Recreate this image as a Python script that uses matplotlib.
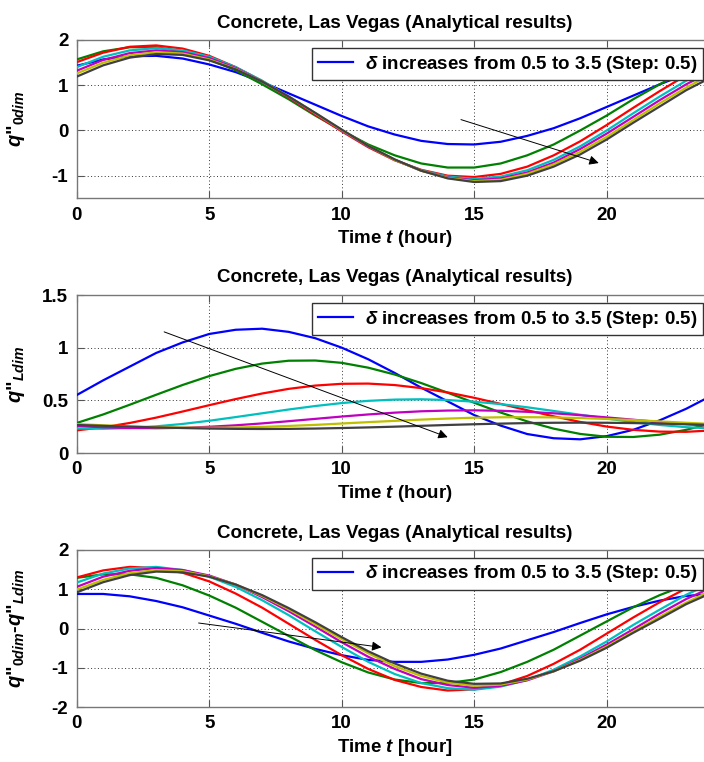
import matplotlib
matplotlib.use("Agg")
import matplotlib.pyplot as plt

plt.rcParams['font.family'] = ['Liberation Sans', 'DejaVu Sans']
plt.rcParams['font.weight'] = 'bold'
plt.rcParams['mathtext.fontset'] = 'custom'
plt.rcParams['mathtext.it'] = 'Liberation Sans:italic:bold'
plt.rcParams['mathtext.rm'] = 'Liberation Sans:bold'
plt.rcParams['mathtext.bf'] = 'Liberation Sans:bold'

# ---------------- data ----------------
hours = list(range(25))

# panel 1 : q''_0dim
q0_d05 = [1.43, 1.57, 1.64, 1.65, 1.59, 1.46, 1.29, 1.07, 0.82, 0.57, 0.32, 0.09, -0.09,
          -0.23, -0.30, -0.31, -0.25, -0.12, 0.05, 0.27, 0.52, 0.77, 1.02, 1.25, 1.43]
q0_d10 = [1.57, 1.75, 1.84, 1.84, 1.75, 1.57, 1.33, 1.02, 0.69, 0.33, 0.00, -0.31, -0.55,
          -0.73, -0.82, -0.82, -0.73, -0.55, -0.31, 0.00, 0.33, 0.69, 1.02, 1.33, 1.57]
q0_d15 = [1.51, 1.72, 1.85, 1.88, 1.81, 1.65, 1.40, 1.09, 0.73, 0.35, -0.02, -0.37, -0.66,
          -0.87, -1.00, -1.03, -0.96, -0.80, -0.55, -0.24, 0.12, 0.50, 0.87, 1.22, 1.51]
q0_d20 = [1.40, 1.63, 1.77, 1.82, 1.77, 1.63, 1.40, 1.10, 0.75, 0.38, 0.00, -0.35, -0.65,
          -0.88, -1.02, -1.07, -1.02, -0.88, -0.65, -0.35, 0.00, 0.38, 0.75, 1.10, 1.40]
q0_d25 = [1.32, 1.56, 1.71, 1.77, 1.73, 1.60, 1.38, 1.08, 0.74, 0.37, 0.00, -0.35, -0.65,
          -0.89, -1.04, -1.10, -1.06, -0.93, -0.71, -0.41, -0.07, 0.30, 0.67, 1.02, 1.32]
q0_d30 = [1.26, 1.50, 1.66, 1.73, 1.70, 1.57, 1.36, 1.08, 0.75, 0.38, 0.01, -0.34, -0.65,
          -0.89, -1.05, -1.12, -1.09, -0.96, -0.75, -0.47, -0.14, 0.23, 0.60, 0.95, 1.26]
q0_d35 = [1.19, 1.44, 1.61, 1.69, 1.67, 1.55, 1.35, 1.08, 0.75, 0.39, 0.02, -0.34, -0.64,
          -0.89, -1.06, -1.14, -1.12, -1.00, -0.80, -0.53, -0.20, 0.17, 0.53, 0.89, 1.19]

# panel 2 : q''_Ldim
qL_d05 = [0.55, 0.69, 0.82, 0.95, 1.05, 1.13, 1.17, 1.18, 1.15, 1.09, 1.00, 0.89, 0.76,
          0.62, 0.49, 0.36, 0.26, 0.18, 0.14, 0.13, 0.16, 0.22, 0.31, 0.42, 0.55]
qL_d10 = [0.285, 0.366, 0.458, 0.553, 0.646, 0.730, 0.799, 0.849, 0.876, 0.878, 0.856, 0.810, 0.745,
          0.664, 0.572, 0.477, 0.384, 0.300, 0.231, 0.181, 0.154, 0.152, 0.174, 0.220, 0.285]
qL_d15 = [0.215, 0.244, 0.285, 0.336, 0.394, 0.454, 0.512, 0.565, 0.609, 0.640, 0.657, 0.659, 0.645,
          0.616, 0.575, 0.524, 0.466, 0.406, 0.348, 0.295, 0.251, 0.220, 0.203, 0.201, 0.215]
qL_d20 = [0.233, 0.230, 0.237, 0.253, 0.276, 0.306, 0.341, 0.377, 0.413, 0.446, 0.474, 0.495, 0.507,
          0.510, 0.503, 0.487, 0.464, 0.434, 0.399, 0.363, 0.327, 0.294, 0.266, 0.245, 0.233]
qL_d25 = [0.257, 0.244, 0.237, 0.235, 0.239, 0.249, 0.263, 0.281, 0.302, 0.324, 0.346, 0.366, 0.383,
          0.396, 0.403, 0.405, 0.401, 0.391, 0.377, 0.359, 0.338, 0.316, 0.294, 0.274, 0.257]
qL_d30 = [0.275, 0.263, 0.253, 0.245, 0.241, 0.240, 0.242, 0.248, 0.257, 0.267, 0.280, 0.293, 0.305,
          0.317, 0.327, 0.335, 0.339, 0.340, 0.338, 0.332, 0.323, 0.313, 0.300, 0.287, 0.275]
qL_d35 = [0.266, 0.258, 0.250, 0.243, 0.237, 0.232, 0.229, 0.228, 0.229, 0.232, 0.237, 0.243, 0.250,
          0.258, 0.266, 0.273, 0.279, 0.284, 0.287, 0.288, 0.287, 0.284, 0.279, 0.273, 0.266]

# panel 3 : q''_0dim - q''_Ldim
qd_d05 = [0.88, 0.88, 0.82, 0.70, 0.54, 0.33, 0.12, -0.11, -0.33, -0.52, -0.68, -0.80, -0.85,
          -0.85, -0.79, -0.67, -0.51, -0.30, -0.09, 0.14, 0.36, 0.55, 0.71, 0.83, 0.88]
qd_d10 = [1.29, 1.38, 1.38, 1.29, 1.10, 0.84, 0.53, 0.17, -0.19, -0.55, -0.86, -1.12, -1.30,
          -1.39, -1.39, -1.30, -1.11, -0.85, -0.54, -0.18, 0.18, 0.54, 0.85, 1.11, 1.29]
qd_d15 = [1.30, 1.48, 1.57, 1.54, 1.42, 1.20, 0.89, 0.53, 0.12, -0.29, -0.68, -1.03, -1.31,
          -1.49, -1.58, -1.55, -1.43, -1.21, -0.90, -0.54, -0.13, 0.28, 0.67, 1.02, 1.30]
qd_d20 = [1.17, 1.40, 1.53, 1.57, 1.49, 1.32, 1.06, 0.72, 0.34, -0.07, -0.47, -0.85, -1.16,
          -1.39, -1.52, -1.56, -1.48, -1.31, -1.05, -0.71, -0.33, 0.09, 0.48, 0.86, 1.17]
qd_d25 = [1.06, 1.32, 1.47, 1.54, 1.49, 1.35, 1.12, 0.80, 0.44, 0.05, -0.35, -0.72, -1.03,
          -1.29, -1.44, -1.51, -1.46, -1.32, -1.09, -0.77, -0.41, -0.02, 0.38, 0.75, 1.06]
qd_d30 = [0.99, 1.24, 1.41, 1.49, 1.46, 1.33, 1.12, 0.83, 0.49, 0.11, -0.27, -0.63, -0.96,
          -1.21, -1.38, -1.46, -1.43, -1.30, -1.09, -0.80, -0.46, -0.08, 0.30, 0.66, 0.99]
qd_d35 = [0.92, 1.18, 1.36, 1.45, 1.43, 1.32, 1.12, 0.85, 0.52, 0.16, -0.22, -0.58, -0.89,
          -1.15, -1.33, -1.41, -1.40, -1.28, -1.09, -0.82, -0.49, -0.11, 0.25, 0.62, 0.92]

panel_series = [
    [q0_d05, q0_d10, q0_d15, q0_d20, q0_d25, q0_d30, q0_d35],
    [qL_d05, qL_d10, qL_d15, qL_d20, qL_d25, qL_d30, qL_d35],
    [qd_d05, qd_d10, qd_d15, qd_d20, qd_d25, qd_d30, qd_d35],
]

title_text = "Concrete, Las Vegas (Analytical results)"
legend_text = r"$\delta$ increases from 0.5 to 3.5 (Step: 0.5)"
ylabels = [r'$q$"$_{0dim}$', r'$q$"$_{Ldim}$', r'$q$"$_{0dim}$-$q$"$_{Ldim}$']
xlabels = [r"Time $t$ (hour)", r"Time $t$ (hour)", r"Time $t$ [hour]"]
xticks = [0, 5, 10, 15, 20]
yticks = [[-1, 0, 1, 2], [0, 0.5, 1, 1.5], [-2, -1, 0, 1, 2]]
yticklabels = [["-1", "0", "1", "2"], ["0", "0.5", "1", "1.5"], ["-2", "-1", "0", "1", "2"]]
ylims = [(-1.5, 2), (0, 1.5), (-2, 2)]
arrows = [((14.5, 0.24), (19.7, -0.72)),
          ((3.3, 1.15), (14.0, 0.15)),
          ((4.6, 0.14), (11.5, -0.48))]

colors = [(0, 0, 1), (0, 0.5, 0), (1, 0, 0), (0, 0.75, 0.75),
          (0.75, 0, 0.75), (0.75, 0.75, 0), (0.25, 0.25, 0.25)]

# ---------------- figure ----------------
W, H = 704, 762
fig = plt.figure(figsize=(W / 100, H / 100), dpi=100)

left = 76.7 / W
width = (712.7 - 76.7) / W
panels_px = [(40, 198.3), (295, 453), (550, 707)]

for i, (top_px, bot_px) in enumerate(panels_px):
    ax = fig.add_axes([left, 1 - bot_px / H, width, (bot_px - top_px) / H])
    for k, (ser, c) in enumerate(zip(panel_series[i], colors)):
        ax.plot(hours, ser, color=c, lw=1.6, solid_joinstyle='round',
                label=legend_text if k == 0 else None, zorder=3)
    ax.set_xlim(0, 24)
    ax.set_ylim(*ylims[i])
    ax.set_xticks(xticks)
    ax.set_xticklabels([str(v) for v in xticks])
    ax.set_yticks(yticks[i])
    ax.set_yticklabels(yticklabels[i])
    ax.tick_params(direction='in', length=5, width=0.8, color='#555555',
                   top=True, right=True, labelsize=13.5, pad=6)
    for lab in ax.get_xticklabels() + ax.get_yticklabels():
        lab.set_fontweight('bold')
    ax.grid(True, linestyle=(0, (1, 2.5)), color='#333333', lw=0.7)
    for s in ax.spines.values():
        s.set_color('#777777')
        s.set_linewidth(1.0)
    ax.set_title(title_text, fontsize=13.5, fontweight='bold', pad=9)
    ax.set_xlabel(xlabels[i], fontsize=13.5, fontweight='bold', labelpad=3)
    ax.set_ylabel(ylabels[i], fontsize=14.5, fontweight='bold')
    ax.yaxis.set_label_coords(-0.078, 0.5)
    (x0, y0), (x1, y1) = arrows[i]
    ax.annotate("", xy=(x1, y1), xytext=(x0, y0),
                arrowprops=dict(arrowstyle='-|>', color='black', lw=0.7,
                                mutation_scale=14, shrinkA=0, shrinkB=0),
                zorder=5)
    ax.legend(loc='upper right', bbox_to_anchor=(0.984, 0.95), borderaxespad=0,
              fancybox=False, edgecolor='#333333', framealpha=1,
              prop={'weight': 'bold', 'size': 13.5}, handlelength=1.9,
              borderpad=0.3, handletextpad=0.6)

fig.savefig("out.png", dpi=100)
